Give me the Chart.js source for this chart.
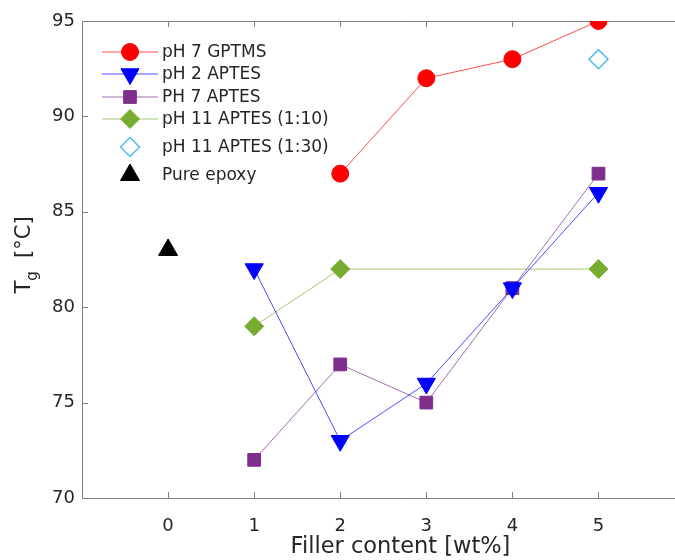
<!DOCTYPE html>
<html>
<head>
<meta charset="utf-8">
<script src="https://cdn.jsdelivr.net/npm/chart.js@4"></script>
<style>
  html, body { margin: 0; padding: 0; background: #fff; overflow: hidden; }
  #wrap { width: 731px; height: 560px; }
</style>
</head>
<body>
<div id="wrap"><canvas id="tgChart" width="731" height="560"></canvas></div>
<script>
// Valores (Tg em °C por teor de carga)
const fillerContent = [0, 1, 2, 3, 4, 5];
const gptmsPh7 = [null, null, 87, 92, 93, 95];
const aptesPh2 = [null, 82, 73, 76, 81, 86];
const aptesPh7 = [null, 72, 77, 75, 81, 87];
const aptesPh11_10 = [null, 79, 82, null, null, 82];
const aptesPh11_30 = [null, null, null, null, null, 93];
const pureEpoxy = [83, null, null, null, null, null];
const yTicks = [70, 75, 80, 85, 90, 95];

const textColor = '#262626';
const axisColor = '#808080';
const font = 'DejaVu Sans';

function toPoints(values) {
    return fillerContent.map((x, i) => ({ x: x, y: values[i] }));
}

function series(label, values, color, style, opts) {
    return Object.assign({
        label: label,
        data: toPoints(values),
        borderColor: color,
        backgroundColor: color,
        pointBackgroundColor: color,
        pointBorderColor: color,
        borderWidth: 1,
        pointBorderWidth: 1,
        pointStyle: style,
        pointRadius: 9,
        pointHoverRadius: 9,
        spanGaps: true,
        showLine: true
    }, opts || {});
}

const datasets = [
    series('pH 7 GPTMS', gptmsPh7, '#FF0000', 'circle', { borderColor: 'rgba(255,0,0,0.7)', pointRadius: 8.5 }),
    series('pH 2 APTES', aptesPh2, '#0000FF', 'triangle', { borderColor: 'rgba(0,0,255,0.7)', pointRotation: 180, pointRadius: 10.5 }),
    series('PH 7 APTES', aptesPh7, '#7E2F8E', 'rect', { borderColor: 'rgba(126,47,142,0.7)', pointRadius: 9 }),
    series('pH 11 APTES (1:10)', aptesPh11_10, '#77AC30', 'rectRot', { borderColor: 'rgba(119,172,48,0.65)', pointRadius: 9.5 }),
    series('pH 11 APTES (1:30)', aptesPh11_30, '#4DBEEE', 'rectRot', { pointBackgroundColor: '#ffffff', backgroundColor: '#ffffff', pointBorderWidth: 1.5, showLine: false, pointRadius: 9.5 }),
    series('Pure epoxy', pureEpoxy, '#000000', 'triangle', { showLine: false, pointRadius: 11 })
];

// Legenda desenhada à mão (linha + marcador, estilo MATLAB)
const legendRows = [52, 74, 97, 119, 147, 175];
const legendPlugin = {
    id: 'matlabLegend',
    afterDatasetsDraw(chart) {
        const ctx = chart.ctx;
        ctx.save();
        chart.data.datasets.forEach((ds, i) => {
            const y = legendRows[i];
            if (ds.showLine) {
                ctx.strokeStyle = ds.borderColor;
                ctx.lineWidth = 1;
                ctx.beginPath();
                ctx.moveTo(102, y);
                ctx.lineTo(158, y);
                ctx.stroke();
            }
            ctx.fillStyle = ds.pointBackgroundColor;
            ctx.strokeStyle = ds.pointBorderColor;
            ctx.lineWidth = ds.pointBorderWidth;
            Chart.helpers.drawPoint(ctx, {
                pointStyle: ds.pointStyle,
                rotation: ds.pointRotation || 0,
                radius: ds.pointRadius,
                borderWidth: ds.pointBorderWidth
            }, 130, y);
            ctx.fillStyle = textColor;
            ctx.font = '17px "' + font + '"';
            ctx.textBaseline = 'middle';
            ctx.textAlign = 'left';
            ctx.fillText(ds.label, 162, y + 1);
        });
        ctx.restore();
    }
};

// Moldura com marcas internas e título do eixo Y com subscrito
const framePlugin = {
    id: 'frame',
    beforeDatasetsDraw(chart) {
        const { ctx, chartArea: a, scales: { x, y } } = chart;
        ctx.save();
        ctx.strokeStyle = axisColor;
        ctx.lineWidth = 1;
        ctx.beginPath();
        ctx.moveTo(a.left + 0.5, a.top + 0.5);
        ctx.lineTo(a.right, a.top + 0.5);
        ctx.moveTo(a.left + 0.5, a.top);
        ctx.lineTo(a.left + 0.5, a.bottom + 0.5);
        ctx.lineTo(a.right, a.bottom + 0.5);
        fillerContent.forEach(v => {
            const px = Math.round(x.getPixelForValue(v)) + 0.5;
            ctx.moveTo(px, a.bottom);
            ctx.lineTo(px, a.bottom - 6);
            ctx.moveTo(px, a.top);
            ctx.lineTo(px, a.top + 6);
        });
        yTicks.forEach(v => {
            const py = Math.round(y.getPixelForValue(v)) + 0.5;
            ctx.moveTo(a.left, py);
            ctx.lineTo(a.left + 6, py);
        });
        ctx.stroke();
        ctx.restore();
    },
    afterDraw(chart) {
        const { ctx } = chart;
        ctx.save();
        ctx.translate(25, 255);
        ctx.rotate(-Math.PI / 2);
        ctx.fillStyle = textColor;
        ctx.textBaseline = 'middle';
        ctx.textAlign = 'left';
        const big = '21px "' + font + '"';
        const small = '15px "' + font + '"';
        ctx.font = big;
        const wT = ctx.measureText('T').width;
        const wRest = ctx.measureText('  [°C]').width;
        ctx.font = small;
        const wg = ctx.measureText('g').width;
        let cx = -(wT + wg + wRest) / 2;
        ctx.font = big;
        ctx.fillText('T', cx, 0);
        cx += wT;
        ctx.font = small;
        ctx.fillText('g', cx, 8);
        cx += wg;
        ctx.font = big;
        ctx.fillText('  [°C]', cx, 0);
        ctx.restore();
    }
};

new Chart(document.getElementById('tgChart').getContext('2d'), {
    type: 'scatter',
    data: { datasets: datasets },
    options: {
        responsive: false,
        animation: false,
        events: [],
        layout: { padding: { left: 0, top: 21, right: 0, bottom: 0 } },
        plugins: { legend: { display: false }, tooltip: { enabled: false } },
        scales: {
            x: {
                type: 'linear',
                min: -1,
                max: 6.4,
                border: { display: false },
                grid: { display: false, drawTicks: false },
                afterBuildTicks: scale => { scale.ticks = fillerContent.map(v => ({ value: v })); },
                ticks: {
                    color: textColor,
                    font: { family: font, size: 18 },
                    padding: 18,
                    callback: v => String(v)
                },
                title: {
                    display: true,
                    text: 'Filler content [wt%]',
                    color: textColor,
                    font: { family: font, size: 22.5 },
                    padding: { top: 0, bottom: -1 }
                },
                afterFit: scale => { scale.height = 62; }
            },
            y: {
                type: 'linear',
                min: 70,
                max: 95,
                border: { display: false },
                grid: { display: false, drawTicks: false },
                afterBuildTicks: scale => { scale.ticks = yTicks.map(v => ({ value: v })); },
                ticks: {
                    color: textColor,
                    font: { family: font, size: 18 },
                    padding: 7,
                    callback: v => String(v)
                },
                afterFit: scale => { scale.width = 82; }
            }
        }
    },
    plugins: [framePlugin, legendPlugin]
});
</script>
</body>
</html>
